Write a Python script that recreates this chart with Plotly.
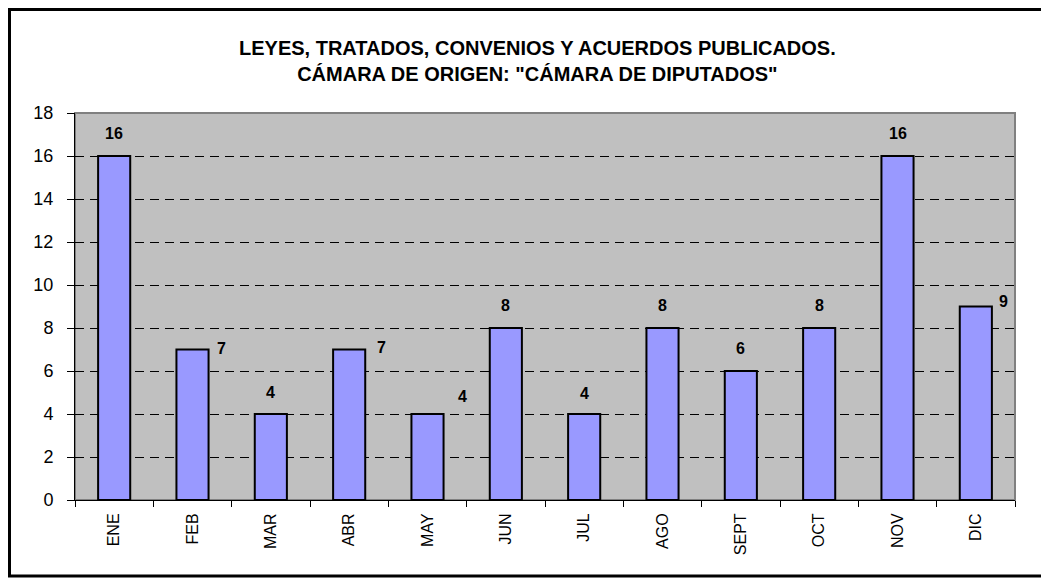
import plotly.graph_objects as go

# ---- data ----
months = ["ENE", "FEB", "MAR", "ABR", "MAY", "JUN", "JUL", "AGO", "SEPT", "OCT", "NOV", "DIC"]
counts = [16, 7, 4, 7, 4, 8, 4, 8, 6, 8, 16, 9]
y_ticks = [0, 2, 4, 6, 8, 10, 12, 14, 16, 18]
title_lines = ["LEYES, TRATADOS, CONVENIOS Y ACUERDOS PUBLICADOS.",
               "CÁMARA DE ORIGEN: \"CÁMARA DE DIPUTADOS\""]

# ---- style: label pixel offsets (dx, dy above bar top) ----
label_dx = [0, 29, 0, 32, 35, 0, 0, 0, 0, 0, 0, 28]
label_dy = [23, 1, 22, 2, 18, 23, 21, 23, 23, 23, 23, 5]

FONT = "Arial, Liberation Sans, sans-serif"
OFF = 8                      # page body margin
W, H = 1049 - OFF, 578 - OFF
L, T = 75 - OFF, 113 - OFF
R = W - (1015 - OFF)
B = H - (500 - OFF)
pw, ph = W - L - R, H - T - B

def px_x(x):   # page x -> paper
    return (x - OFF - L) / pw

def px_y(y):   # page y -> paper
    return (H - B - (y - OFF)) / ph

fig = go.Figure()
fig.add_trace(go.Bar(
    x=months, y=counts,
    marker=dict(color="#9999FF", line=dict(color="black", width=2)),
    hoverinfo="x+y",
))

for m, v, dx, dy in zip(months, counts, label_dx, label_dy):
    fig.add_annotation(x=m, y=v, text=f"<b>{v}</b>", showarrow=False,
                       xshift=dx, yshift=dy, xanchor="center", yanchor="middle",
                       font=dict(family=FONT, size=16, color="black"))

fig.add_annotation(xref="paper", yref="paper", x=px_x(537), y=px_y(61),
                   text="<b>" + "<br>".join(title_lines) + "</b>",
                   showarrow=False, xanchor="center", yanchor="middle",
                   font=dict(family=FONT, size=20, color="black"))

# plot area frame (gray) and outer chart border
fig.add_shape(type="rect", xref="paper", yref="paper", x0=0, x1=1, y0=0, y1=1,
              line=dict(color="#808080", width=2), fillcolor="rgba(0,0,0,0)", layer="below")
fig.add_shape(type="rect", xref="paper", yref="paper",
              x0=px_x(9.5), x1=px_x(1070), y0=px_y(576), y1=px_y(9.5),
              line=dict(color="black", width=3), fillcolor="rgba(0,0,0,0)", layer="below")

fig.update_layout(
    width=W, height=H,
    margin=dict(l=L, r=R, t=T, b=B, autoexpand=False),
    paper_bgcolor="white", plot_bgcolor="#C0C0C0",
    bargap=0.59, showlegend=False,
    font=dict(family=FONT, color="black"),
)
fig.update_xaxes(
    type="category", tickson="boundaries", ticks="outside", ticklen=6,
    tickcolor="black", tickwidth=1, tickangle=-90,
    tickfont=dict(family=FONT, size=16, color="black"),
    showline=True, linecolor="black", linewidth=1, showgrid=False,
    ticklabelstandoff=6,
)
fig.update_yaxes(
    range=[0, 18], tickvals=y_ticks, ticks="outside", ticklen=7,
    tickcolor="black", tickwidth=1,
    tickfont=dict(family=FONT, size=18, color="black"),
    showline=True, linecolor="black", linewidth=1,
    showgrid=True, gridcolor="black", gridwidth=1, griddash="9px,6px",
    zeroline=False, ticklabelstandoff=10,
)

fig.write_html("out.html")
